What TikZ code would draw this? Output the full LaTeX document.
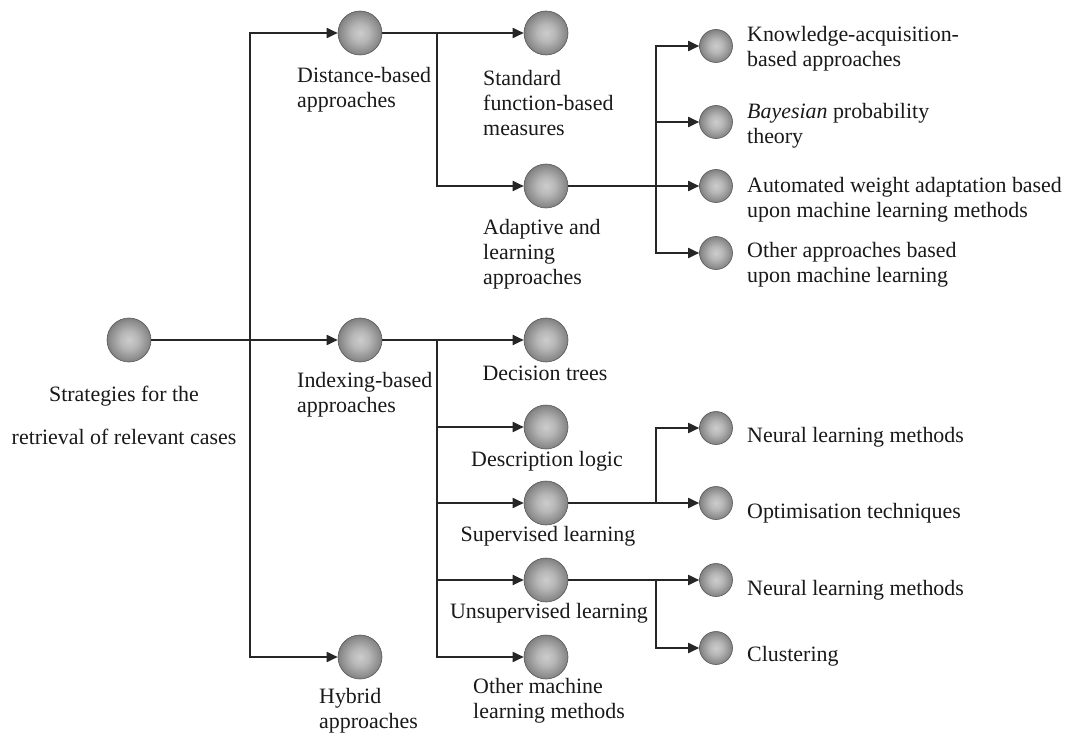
\documentclass[tikz,border=0pt]{standalone}
\usepackage{fontspec}
\setmainfont{Liberation Serif}
\usetikzlibrary{arrows.meta}
\pgfdeclareradialshading{spheresh}{\pgfpoint{0bp}{0bp}}{color(0bp)=(black!20); color(10bp)=(black!28); color(22bp)=(black!45); color(32bp)=(black!62); color(36bp)=(black!72); color(50bp)=(black!80)}
\tikzset{
  bigball/.style={circle, inner sep=0pt, minimum size=44bp, shading=spheresh, draw=black!65, line width=0.6bp},
  smallball/.style={circle, inner sep=0pt, minimum size=33bp, shading=spheresh, draw=black!65, line width=0.6bp},
  conn/.style={draw=black!85, line width=1.8bp},
  arr/.style={conn, -{Triangle[length=11bp,width=10bp]}},
  lbl/.style={font=\fontsize{22}{25}\selectfont, text=black!90, inner sep=0pt},
  lbll/.style={lbl, align=left, anchor=west},
  lblc/.style={lbl, align=center}
}
\begin{document}
\begin{tikzpicture}[x=1bp, y=-1bp]
\useasboundingbox[fill=white] (0,0) rectangle (1071,735);

% spheres
\node[bigball] (root) at (129,340) {};
\node[bigball] (dist) at (360,33) {};
\node[bigball] (idx) at (360,340) {};
\node[bigball] (hyb) at (360,657) {};

\node[bigball] (std) at (546,33) {};
\node[bigball] (ada) at (546,186) {};
\node[bigball] (dt) at (546,340) {};
\node[bigball] (dl) at (546,427) {};
\node[bigball] (sl) at (546,503) {};
\node[bigball] (ul) at (546,580) {};
\node[bigball] (oml) at (546,657) {};

\node[smallball] (ka) at (716,46) {};
\node[smallball] (bay) at (716,122) {};
\node[smallball] (awa) at (716,186) {};
\node[smallball] (oab) at (716,253) {};
\node[smallball] (nl1) at (716,428) {};
\node[smallball] (opt) at (716,503) {};
\node[smallball] (nl2) at (716,580) {};
\node[smallball] (clu) at (716,648) {};

% junction coordinates
\coordinate (tr) at (250,340);
\coordinate (j1) at (437,33);
\coordinate (j2) at (656,186);
\coordinate (j3) at (437,340);
\coordinate (j4) at (656,503);
\coordinate (j5) at (656,580);

% connectors
\draw[arr] (root) -- (idx);
\draw[arr] (tr) |- (dist);
\draw[arr] (tr) |- (hyb);

\draw[arr] (dist) -- (std);
\draw[arr] (j1) |- (ada);
\draw[arr] (ada) -- (awa);
\draw[arr] (j2) |- (ka);
\draw[arr] (j2) |- (bay);
\draw[arr] (j2) |- (oab);

\draw[arr] (idx) -- (dt);
\draw[arr] (j3) |- (dl);
\draw[arr] (j3) |- (sl);
\draw[arr] (j3) |- (ul);
\draw[arr] (j3) |- (oml);

\draw[arr] (sl) -- (opt);
\draw[arr] (j4) |- (nl1);
\draw[arr] (ul) -- (nl2);
\draw[arr] (j5) |- (clu);

% labels
\node[lblc] (troot) at (124,415) {Strategies for the\\[18bp]retrieval of relevant cases};
\node[lbll] (tdist) at (297,90) {Distance-based\\approaches};
\node[lbll] (tidx) at (297,395) {Indexing-based\\approaches};
\node[lbll] (thyb) at (319,711) {Hybrid\\approaches};

\node[lbll] (tstd) at (483,103) {Standard\\function-based\\measures};
\node[lbll] (tada) at (483,254) {Adaptive and\\learning\\approaches};
\node[lblc] (tdt) at (545,373) {Decision trees};
\node[lblc] (tdl) at (547,461) {Description logic};
\node[lblc] (tsl) at (548,536) {Supervised learning};
\node[lblc] (tul) at (549,613) {Unsupervised learning};
\node[lbll] (toml) at (473,701) {Other machine\\learning methods};

\node[lbll] (tka) at (747,49) {Knowledge-acquisition-\\based approaches};
\node[lbll] (tbay) at (747,126) {\textit{Bayesian} probability\\theory};
\node[lbll] (tawa) at (747,200) {Automated weight adaptation based\\upon machine learning methods};
\node[lbll] (toab) at (747,265) {Other approaches based\\upon machine learning};
\node[lbll] (tnl1) at (747,437) {Neural learning methods};
\node[lbll] (topt) at (747,513) {Optimisation techniques};
\node[lbll] (tnl2) at (747,590) {Neural learning methods};
\node[lbll] (tclu) at (747,656) {Clustering};
\end{tikzpicture}
\end{document}
